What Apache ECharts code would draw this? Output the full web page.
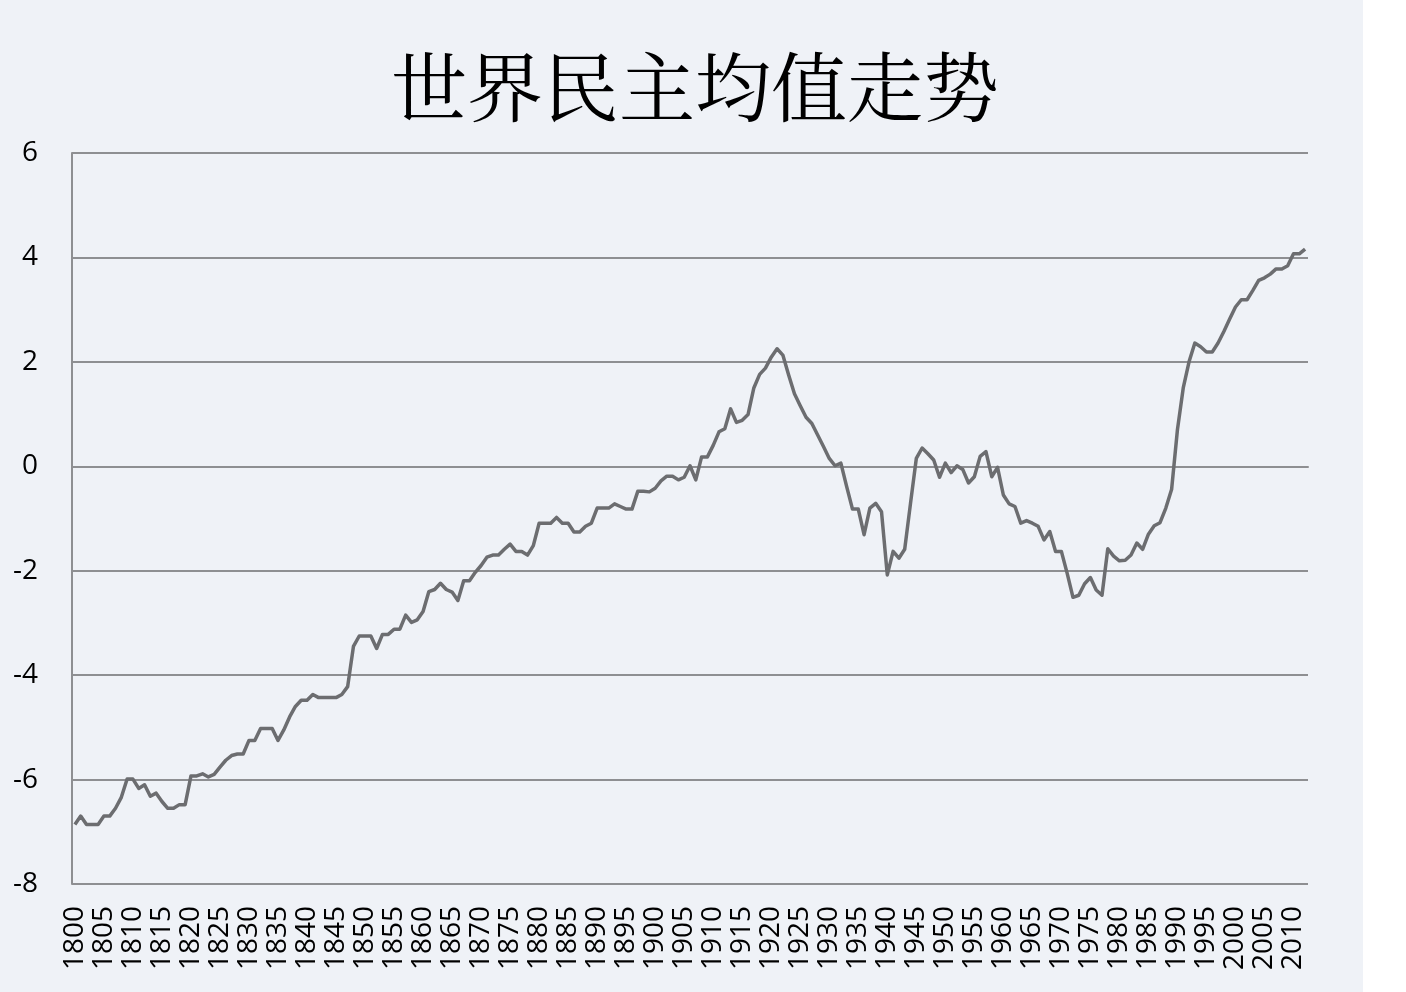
<!DOCTYPE html>
<html>
<head>
<meta charset="utf-8">
<title>世界民主均值走势</title>
<script src="https://cdn.jsdelivr.net/npm/echarts@6.0.0/dist/echarts.min.js"></script>
<style>
html, body { margin: 0; padding: 0; background: #ffffff; }
#main { width: 1363px; height: 992px; }
</style>
</head>
<body>
<div id="main"></div>
<script>
// 年份 1800 - 2012
var startYear = 1800;
var endYear = 2012;
var years = [];
for (var y = startYear; y <= endYear; y++) {
  years.push(String(y));
}

// 世界民主均值
var avgValues = [
  -6.86, -6.70, -6.86, -6.86, -6.86, -6.70, -6.70, -6.55, -6.34, -5.99,
  -5.99, -6.17, -6.10, -6.32, -6.26, -6.42, -6.55, -6.55, -6.48, -6.48,
  -5.93, -5.93, -5.89, -5.95, -5.90, -5.76, -5.63, -5.54, -5.51, -5.51,
  -5.25, -5.25, -5.02, -5.02, -5.02, -5.25, -5.05, -4.80, -4.60, -4.48,
  -4.48, -4.37, -4.43, -4.43, -4.43, -4.43, -4.37, -4.22, -3.45, -3.25,
  -3.25, -3.25, -3.49, -3.22, -3.22, -3.12, -3.12, -2.85, -2.99, -2.94,
  -2.78, -2.40, -2.36, -2.24, -2.36, -2.41, -2.57, -2.19, -2.19, -2.03,
  -1.90, -1.74, -1.70, -1.70, -1.59, -1.49, -1.63, -1.63, -1.70, -1.52,
  -1.09, -1.09, -1.09, -0.98, -1.09, -1.09, -1.26, -1.26, -1.15, -1.09,
  -0.80, -0.80, -0.80, -0.72, -0.77, -0.82, -0.82, -0.48, -0.48, -0.49,
  -0.42, -0.28, -0.19, -0.19, -0.26, -0.21, 0.01, -0.26, 0.18, 0.18,
  0.40, 0.66, 0.72, 1.10, 0.84, 0.88, 0.99, 1.50, 1.76, 1.88,
  2.09, 2.25, 2.13, 1.75, 1.39, 1.16, 0.94, 0.82, 0.60, 0.38,
  0.15, 0.01, 0.06, -0.39, -0.82, -0.82, -1.31, -0.80, -0.71, -0.87,
  -2.08, -1.63, -1.76, -1.59, -0.71, 0.15, 0.35, 0.24, 0.12, -0.21,
  0.06, -0.12, 0.01, -0.06, -0.32, -0.20, 0.19, 0.28, -0.20, -0.02,
  -0.55, -0.72, -0.77, -1.09, -1.04, -1.09, -1.15, -1.41, -1.25, -1.63,
  -1.63, -2.05, -2.51, -2.47, -2.25, -2.13, -2.37, -2.47, -1.58, -1.72,
  -1.81, -1.80, -1.70, -1.47, -1.59, -1.30, -1.14, -1.08, -0.80, -0.44,
  0.70, 1.50, 2.00, 2.36, 2.29, 2.19, 2.19, 2.36, 2.58, 2.82,
  3.05, 3.19, 3.19, 3.37, 3.56, 3.61, 3.68, 3.78, 3.78, 3.84,
  4.07, 4.07, 4.16
];

// y 轴刻度
var yMin = -8;
var yMax = 6;
var yStep = 2;

var myChart = echarts.init(document.getElementById("main"));

myChart.setOption({
  backgroundColor: "#eff2f7",
  animation: false,
  title: {
    text: "世界民主均值走势",
    left: 386,
    top: 44,
    textStyle: {
      fontFamily: "'Noto Serif CJK SC', 'Noto Sans CJK SC', serif",
      fontSize: 76,
      fontWeight: "normal",
      color: "#000000"
    }
  },
  grid: {
    left: 72,
    right: 55,
    top: 153,
    bottom: 108
  },
  xAxis: {
    type: "category",
    data: years,
    boundaryGap: true,
    axisLine: { show: true, lineStyle: { color: "#8e8f92", width: 2 } },
    axisTick: { show: false },
    axisLabel: {
      interval: 4,
      rotate: 90,
      margin: 22,
      color: "#000000",
      fontSize: 28,
      fontFamily: "'Open Sans', 'Noto Sans', sans-serif"
    },
    splitLine: { show: false }
  },
  yAxis: {
    type: "value",
    min: yMin,
    max: yMax,
    interval: yStep,
    axisLine: { show: true, lineStyle: { color: "#8e8f92", width: 2 } },
    axisTick: { show: false },
    axisLabel: {
      margin: 34,
      padding: [8, 0, 0, 0],
      color: "#000000",
      fontSize: 28,
      fontFamily: "'Open Sans', 'Noto Sans', sans-serif"
    },
    splitLine: { show: true, lineStyle: { color: "#8e8f92", width: 2 } }
  },
  series: [
    {
      name: "世界民主均值",
      type: "line",
      data: avgValues,
      symbol: "none",
      smooth: false,
      lineStyle: { color: "#6c6d70", width: 3.5, join: "round" }
    }
  ]
});
</script>
</body>
</html>
